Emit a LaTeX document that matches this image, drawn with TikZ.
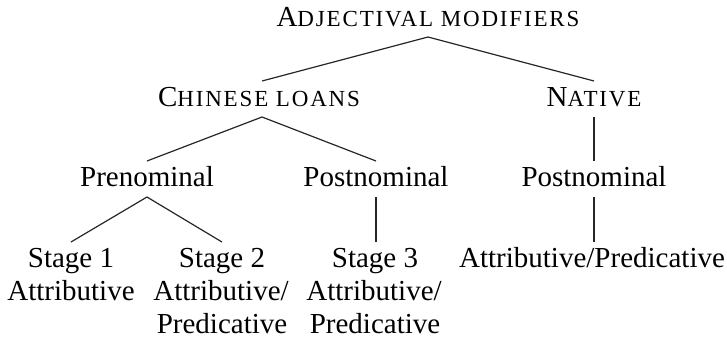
\documentclass[tikz,border=0pt]{standalone}
\usepackage{fontspec}
\setmainfont{Liberation Serif}
\newcommand\mysc[1]{{\fontsize{23}{23}\selectfont\addfontfeature{LetterSpace=8}#1}}
\begin{document}
\begin{tikzpicture}[x=1pt,y=-1pt,
  lbl/.style={font=\fontsize{29}{33}\selectfont, inner sep=0pt, outer sep=0pt,
    text height=25pt, text depth=11pt, anchor=base},
  sub/.style={font=\fontsize{29}{33}\selectfont, inner sep=0pt, anchor=base},
  edge/.style={line width=1.2pt, draw=black!85}]
\useasboundingbox (0,0) rectangle (727,343);
% level 0
\node[lbl] (root) at (428,26) {A\mysc{DJECTIVAL MODIFIERS}};
% level 1
\node[lbl] (ch) at (259,106) {C\mysc{HINESE LOANS}};
\node[lbl] (nat) at (594,106) {N\mysc{ATIVE}};
% level 2
\node[lbl] (pre) at (147,186) {Prenominal};
\node[lbl] (post) at (376,186) {Postnominal};
\node[lbl] (post2) at (594,186) {Postnominal};
% level 3
\node[lbl] (s1) at (71,267) {Stage 1};
\node[lbl] (s2) at (222,267) {Stage 2};
\node[lbl] (s3) at (375,267) {Stage 3};
\node[lbl] (ap) at (592,267) {Attributive/Predicative};
\node[sub] (s1a) at (71,300) {Attributive};
\node[sub] (s2a) at (221,300) {Attributive/};
\node[sub] (s2b) at (222,333) {Predicative};
\node[sub] (s3a) at (374,300) {Attributive/};
\node[sub] (s3b) at (375,333) {Predicative};
% connectors
\draw[edge] (nat.north) -- (root.south) -- ([xshift=3pt]ch.north);
\draw[edge] (pre.north) -- ([xshift=3pt]ch.south) -- (post.north);
\draw[edge] (nat.south) -- (post2.north);
\draw[edge] (s1.north) -- (pre.south) -- (s2.north);
\draw[edge] (post.south) -- (post.south |- s3.north);
\draw[edge] (post2.south) -- (post2.south |- ap.north);
\end{tikzpicture}
\end{document}
